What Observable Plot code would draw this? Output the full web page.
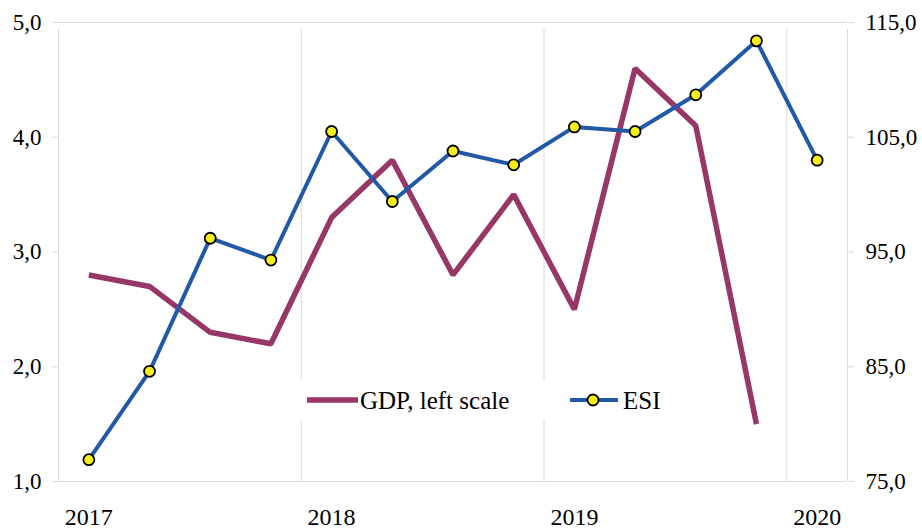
<!DOCTYPE html>
<html><head><meta charset="utf-8">
<script src="https://cdn.jsdelivr.net/npm/d3@7"></script>
<script src="https://cdn.jsdelivr.net/npm/@observablehq/plot@0.6"></script>
<style>body{margin:0;background:#fff;} svg{display:block;}</style>
</head><body><div id="chart"></div>
<script>
const quarters = ["2017Q1","2017Q2","2017Q3","2017Q4","2018Q1","2018Q2","2018Q3","2018Q4","2019Q1","2019Q2","2019Q3","2019Q4","2020Q1"];
const gdp = [2.8, 2.7, 2.3, 2.2, 3.3, 3.8, 2.8, 3.5, 2.5, 4.6, 4.1, 1.5, null];
const esi = [76.9, 84.6, 96.2, 94.3, 105.5, 99.4, 103.8, 102.6, 105.9, 105.5, 108.7, 113.4, 103.0];
const yearLabels = ["2017", "2018", "2019", "2020"];
const yearQuarter = ["2017Q1", "2018Q1", "2019Q1", "2020Q1"];
const leftTicks = [1, 2, 3, 4, 5];
const rightTicks = [75, 85, 95, 105, 115];

const GDP_COLOR = "#963768";
const ESI_COLOR = "#2159a8";
const GRID = "#d9d9d9";
const FONT = "Liberation Serif";

const idx = q => quarters.indexOf(q);
const toLeft = v => leftTicks[0] + (v - rightTicks[0]) * (leftTicks[leftTicks.length-1] - leftTicks[0]) / (rightTicks[rightTicks.length-1] - rightTicks[0]);
const fmt = d => d.toFixed(1).replace(".", ",");

const gdpData = quarters.map((q, i) => ({i, v: gdp[i]})).filter(d => d.v != null);
const esiData = quarters.map((q, i) => ({i, v: toLeft(esi[i])}));
const boundaries = [-0.5, ...yearQuarter.slice(1).map(q => idx(q) - 0.5), quarters.length - 0.5];
const yearData = yearLabels.map((t, k) => ({t, i: idx(yearQuarter[k])}));

const chart = Plot.plot({
  width: 922, height: 529,
  marginLeft: 58, marginRight: 75, marginTop: 22, marginBottom: 48,
  style: {fontFamily: FONT, background: "#fff", color: "#000"},
  x: {domain: [-0.5, quarters.length - 0.5], axis: null},
  y: {domain: [leftTicks[0], leftTicks[leftTicks.length-1]], axis: null},
  marks: [
    Plot.ruleX(boundaries, {y1: leftTicks[0], y2: leftTicks[leftTicks.length-1], stroke: GRID, insetBottom: -7}),
    Plot.ruleY([leftTicks[0], leftTicks[leftTicks.length-1]], {x1: -0.5, x2: quarters.length - 0.5, stroke: GRID}),
    Plot.axisY(leftTicks, {anchor: "left", label: null, tickSize: 6, tickPadding: 11, stroke: GRID, fill: "#000", fontSize: 23, tickFormat: fmt}),
    Plot.axisY(rightTicks.map(toLeft), {anchor: "right", label: null, tickSize: 6, tickPadding: 12, stroke: GRID, fill: "#000", fontSize: 23, tickFormat: (d, k) => fmt(rightTicks[k])}),
    Plot.text(yearData, {x: "i", y: () => leftTicks[0], text: "t", dy: 36, fontSize: 24, fill: "#000"}),
    Plot.line(gdpData, {x: "i", y: "v", stroke: GDP_COLOR, strokeWidth: 5.5, strokeLinejoin: "miter", strokeLinecap: "butt"}),
    Plot.line(esiData, {x: "i", y: "v", stroke: ESI_COLOR, strokeWidth: 4}),
    Plot.dot(esiData, {x: "i", y: "v", r: 5.5, fill: "#f5ee1a", stroke: "#000", strokeWidth: 1.8})
  ]
});

// Legend (inside plot area, bottom centre), inserted beneath the data lines
const firstLine = chart.querySelector('g[aria-label="line"]');
const lg = d3.select(chart).insert("g", () => firstLine).attr("class", "legend")
  .attr("font-family", FONT).attr("font-size", 25).attr("text-anchor", "start");
lg.append("rect").attr("x", 298).attr("y", 380).attr("width", 372).attr("height", 40).attr("fill", "#fff");
lg.append("line").attr("x1", 307).attr("x2", 358).attr("y1", 400).attr("y2", 400).attr("stroke", GDP_COLOR).attr("stroke-width", 5.5);
lg.append("text").attr("x", 360).attr("y", 400).attr("dy", "0.35em").attr("text-anchor", "start").attr("fill", "#000").text("GDP, left scale");
lg.append("line").attr("x1", 570).attr("x2", 618).attr("y1", 400).attr("y2", 400).attr("stroke", ESI_COLOR).attr("stroke-width", 4);
lg.append("circle").attr("cx", 593).attr("cy", 400).attr("r", 5.5).attr("fill", "#f5ee1a").attr("stroke", "#000").attr("stroke-width", 1.8);
lg.append("text").attr("x", 623).attr("y", 400).attr("dy", "0.35em").attr("text-anchor", "start").attr("fill", "#000").text("ESI");

document.getElementById("chart").appendChild(chart);
</script>
</body></html>
